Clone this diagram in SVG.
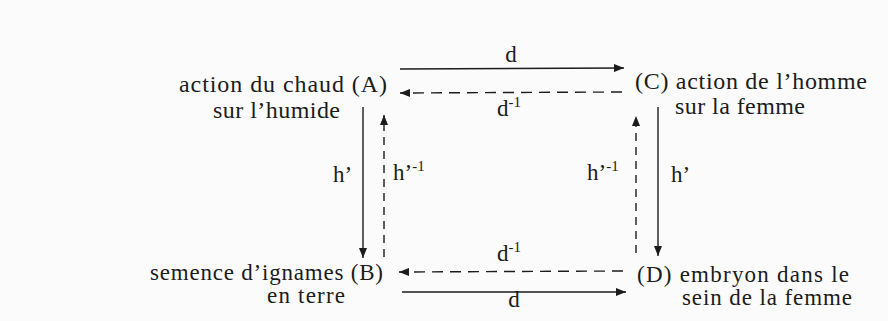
<svg xmlns="http://www.w3.org/2000/svg" width="888" height="321" viewBox="0 0 888 321">
<defs>
<style>
.t{font-family:"Liberation Serif","Times New Roman",serif;font-size:24px;fill:#1c1c1c}
.b{font-size:23px}
.l{font-family:"Liberation Serif","Times New Roman",serif;font-size:23px;fill:#1c1c1c}
.s{font-size:15px}
.ln{stroke:#1c1c1c;stroke-width:1.4;fill:none}
.dh{stroke-dasharray:11 7}
.dv{stroke-dasharray:8 6}
</style>
<marker id="ah" viewBox="0 0 10 8" refX="10" refY="4" markerWidth="10" markerHeight="8" markerUnits="userSpaceOnUse" orient="auto">
<path d="M0,0 L10,4 L0,8 Z" fill="#1c1c1c"/>
</marker>
</defs>
<rect width="888" height="321" fill="#fbfbfb"/>
<g id="A">
<text class="t" x="179" y="92" textLength="208" lengthAdjust="spacing">action du chaud (A)</text>
<text class="t" x="213" y="118" textLength="127" lengthAdjust="spacing">sur l’humide</text>
</g>
<g id="C">
<text class="t" x="635" y="89" textLength="232" lengthAdjust="spacing">(C) action de l’homme</text>
<text class="t" x="675" y="114" textLength="130" lengthAdjust="spacing">sur la femme</text>
</g>
<g id="B">
<text class="t b" x="150" y="280" textLength="233" lengthAdjust="spacing">semence d’ignames (B)</text>
<text class="t b" x="267" y="303" textLength="78" lengthAdjust="spacing">en terre</text>
</g>
<g id="D">
<text class="t b" x="637" y="282" textLength="212" lengthAdjust="spacing">(D) embryon dans le</text>
<text class="t b" x="682" y="305" textLength="170" lengthAdjust="spacing">sein de la femme</text>
</g>
<g id="connectors">
<line class="ln" x1="400" y1="69" x2="624" y2="68" marker-end="url(#ah)"/>
<line class="ln dh" x1="622" y1="92" x2="400" y2="93" marker-end="url(#ah)"/>
<line class="ln" x1="363" y1="107" x2="363" y2="258" marker-end="url(#ah)"/>
<line class="ln dv" x1="384" y1="257" x2="384" y2="115" marker-end="url(#ah)"/>
<line class="ln dv" x1="636" y1="253" x2="636" y2="116" marker-end="url(#ah)"/>
<line class="ln" x1="658" y1="107" x2="658" y2="256" marker-end="url(#ah)"/>
<line class="ln dh" x1="623" y1="271" x2="399" y2="272" marker-end="url(#ah)"/>
<line class="ln" x1="402" y1="292" x2="626" y2="292" marker-end="url(#ah)"/>
<text class="l" x="511" y="62" text-anchor="middle">d</text>
<text class="l" x="497" y="116">d<tspan class="s" dy="-9">-1</tspan></text>
<text class="l" x="333" y="182">h’</text>
<text class="l" x="393" y="180">h’<tspan class="s" dy="-9">-1</tspan></text>
<text class="l" x="587" y="180">h’<tspan class="s" dy="-9">-1</tspan></text>
<text class="l" x="671" y="182">h’</text>
<text class="l" x="497" y="261">d<tspan class="s" dy="-9">-1</tspan></text>
<text class="l" x="514" y="307" text-anchor="middle">d</text>
</g>
</svg>
